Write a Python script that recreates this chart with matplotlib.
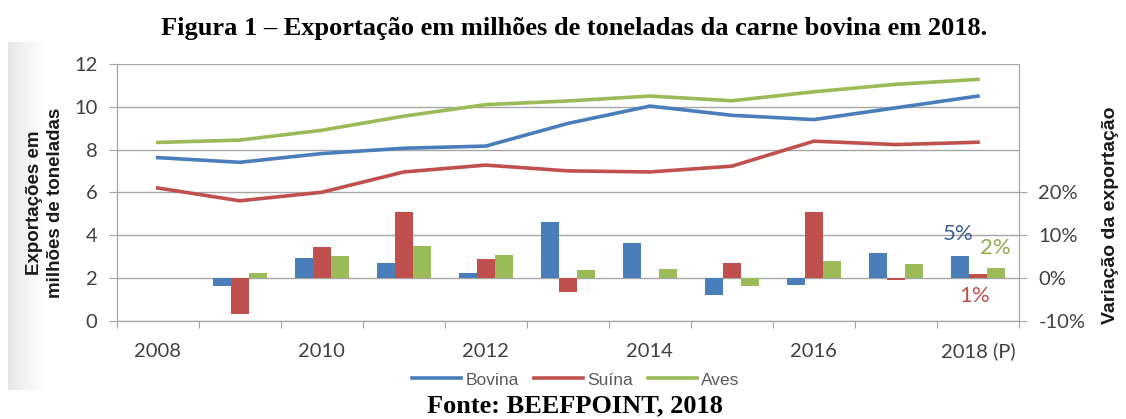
import numpy as np
import matplotlib
matplotlib.use('Agg')
import matplotlib.pyplot as plt
from matplotlib.ticker import FixedLocator, FuncFormatter

# exportações (milhões de toneladas)
anos = ['2008', '2009', '2010', '2011', '2012', '2013', '2014', '2015',
        '2016', '2017', '2018']
bovina = [7.62, 7.40, 7.81, 8.06, 8.16, 9.22, 10.03, 9.60, 9.40, 9.95, 10.50]
suina = [6.20, 5.60, 6.00, 6.95, 7.27, 7.00, 6.95, 7.22, 8.39, 8.23, 8.34]
aves = [8.33, 8.44, 8.90, 9.56, 10.10, 10.27, 10.50, 10.28, 10.70, 11.05, 11.28]

# variação da exportação (%), 2009 em diante
var_bovina = [-1.9, 4.65, 3.5, 1.2, 13.0, 8.1, -4.1, -1.6, 5.7, 5.1]
var_suina = [-8.5, 7.1, 15.3, 4.3, -3.4, 0.0, 3.5, 15.3, -0.5, 0.9]
var_aves = [1.2, 5.1, 7.4, 5.3, 1.8, 2.0, -1.9, 4.0, 3.2, 2.2]

x_labels = ['2008', '', '2010', '', '2012', '', '2014', '', '2016', '',
            '2018 (P)']

c_blue = '#4a7ebb'
c_red = '#c0504d'
c_green = '#9bbb59'
txt = '#404040'

fig = plt.figure(figsize=(11.26, 4.19), dpi=100)

# faixa cinza da imagem original
bg = fig.add_axes([8 / 1126, 29 / 419, 36 / 1126, 348 / 419])
bg.imshow(np.linspace(0.9, 1.0, 64).reshape(1, -1), cmap='gray',
          vmin=0, vmax=1, aspect='auto')
bg.axis('off')

ax = fig.add_axes([116.7 / 1126, 1 - 320.5 / 419, (1019 - 116.7) / 1126,
                   (320.5 - 64) / 419])
ax2 = ax.twinx()

x = np.arange(len(anos))
xb = x[1:]
w = 0.22
ax2.bar(xb - w, var_bovina, w, color=c_blue)
ax2.bar(xb, var_suina, w, color=c_red)
ax2.bar(xb + w, var_aves, w, color=c_green)

l1, = ax.plot(x, bovina, color=c_blue, lw=2.6, label='Bovina')
l2, = ax.plot(x, suina, color=c_red, lw=2.6, label='Suína')
l3, = ax.plot(x, aves, color=c_green, lw=2.6, label='Aves')

ax.set_ylim(0, 12)
ax.set_yticks(range(0, 13, 2))
ax.set_xlim(-0.5, len(anos) - 0.5)
ax2.set_ylim(-10, 50)
ax2.set_yticks([-10, 0, 10, 20])
ax2.yaxis.set_major_formatter(FuncFormatter(lambda v, p: '%d%%' % v))

ax.grid(axis='y', color='#a6a6a6', lw=1)
ax.set_axisbelow(True)

ax.xaxis.set_major_locator(FixedLocator(np.arange(-0.5, len(anos), 1)))
ax.xaxis.set_major_formatter(FuncFormatter(lambda v, p: ''))
ax.xaxis.set_minor_locator(FixedLocator(x))
ax.set_xticklabels(x_labels, minor=True)
ax.tick_params(axis='x', which='major', length=5, color='#a6a6a6',
               direction='out')
ax.tick_params(axis='x', which='minor', length=0, pad=16)
ax.tick_params(axis='y', length=6, color='#a6a6a6', pad=8)
ax2.tick_params(axis='y', length=6, color='#a6a6a6', pad=8)

for a in (ax, ax2):
    for s in a.spines.values():
        s.set_color('#a6a6a6')
    a.spines['top'].set_visible(False)
    for lab in a.get_yticklabels() + a.get_xticklabels(minor=True):
        lab.set_fontfamily('Lato')
        lab.set_fontsize(14.5)
        lab.set_color(txt)

ax.set_ylabel('Exportações em\nmilhões de toneladas', fontsize=13.5,
              family='Liberation Sans', fontweight='bold', color='#1a1a1a',
              linespacing=1.3)
ax.yaxis.set_label_coords(-0.058, 0.46)
ax2.set_ylabel('Variação da exportação', fontsize=14,
               family='Liberation Sans', fontweight='bold', color='#1a1a1a')
ax2.yaxis.set_label_coords(1.092, 0.41)

ax2.text(9.76, 10.3, '5%', color='#3d5f8f', fontsize=16, family='Lato',
         ha='center', va='center')
ax2.text(10.21, 7.0, '2%', color='#8fae4f', fontsize=16, family='Lato',
         ha='center', va='center')
ax2.text(9.96, -4.3, '1%', color=c_red, fontsize=16, family='Lato',
         ha='center', va='center')

fig.legend(handles=[l1, l2, l3], loc='center', ncol=3,
           bbox_to_anchor=(576 / 1126, 1 - 380 / 419), frameon=False,
           prop={'family': 'Liberation Sans', 'size': 12.5},
           labelcolor='#595959', handlelength=2.8, handletextpad=0.25,
           columnspacing=0.9)

fig.text(574 / 1126, 1 - 35 / 419, 'Figura 1 – Exportação em milhões de '
         'toneladas da carne bovina em 2018.', ha='center', va='baseline',
         family='Liberation Serif', fontweight='bold', fontsize=19)
fig.text(575 / 1126, 1 - 412 / 419, 'Fonte: BEEFPOINT, 2018', ha='center',
         va='baseline', family='Liberation Serif', fontweight='bold',
         fontsize=19)

fig.savefig('out.png', dpi=100)
